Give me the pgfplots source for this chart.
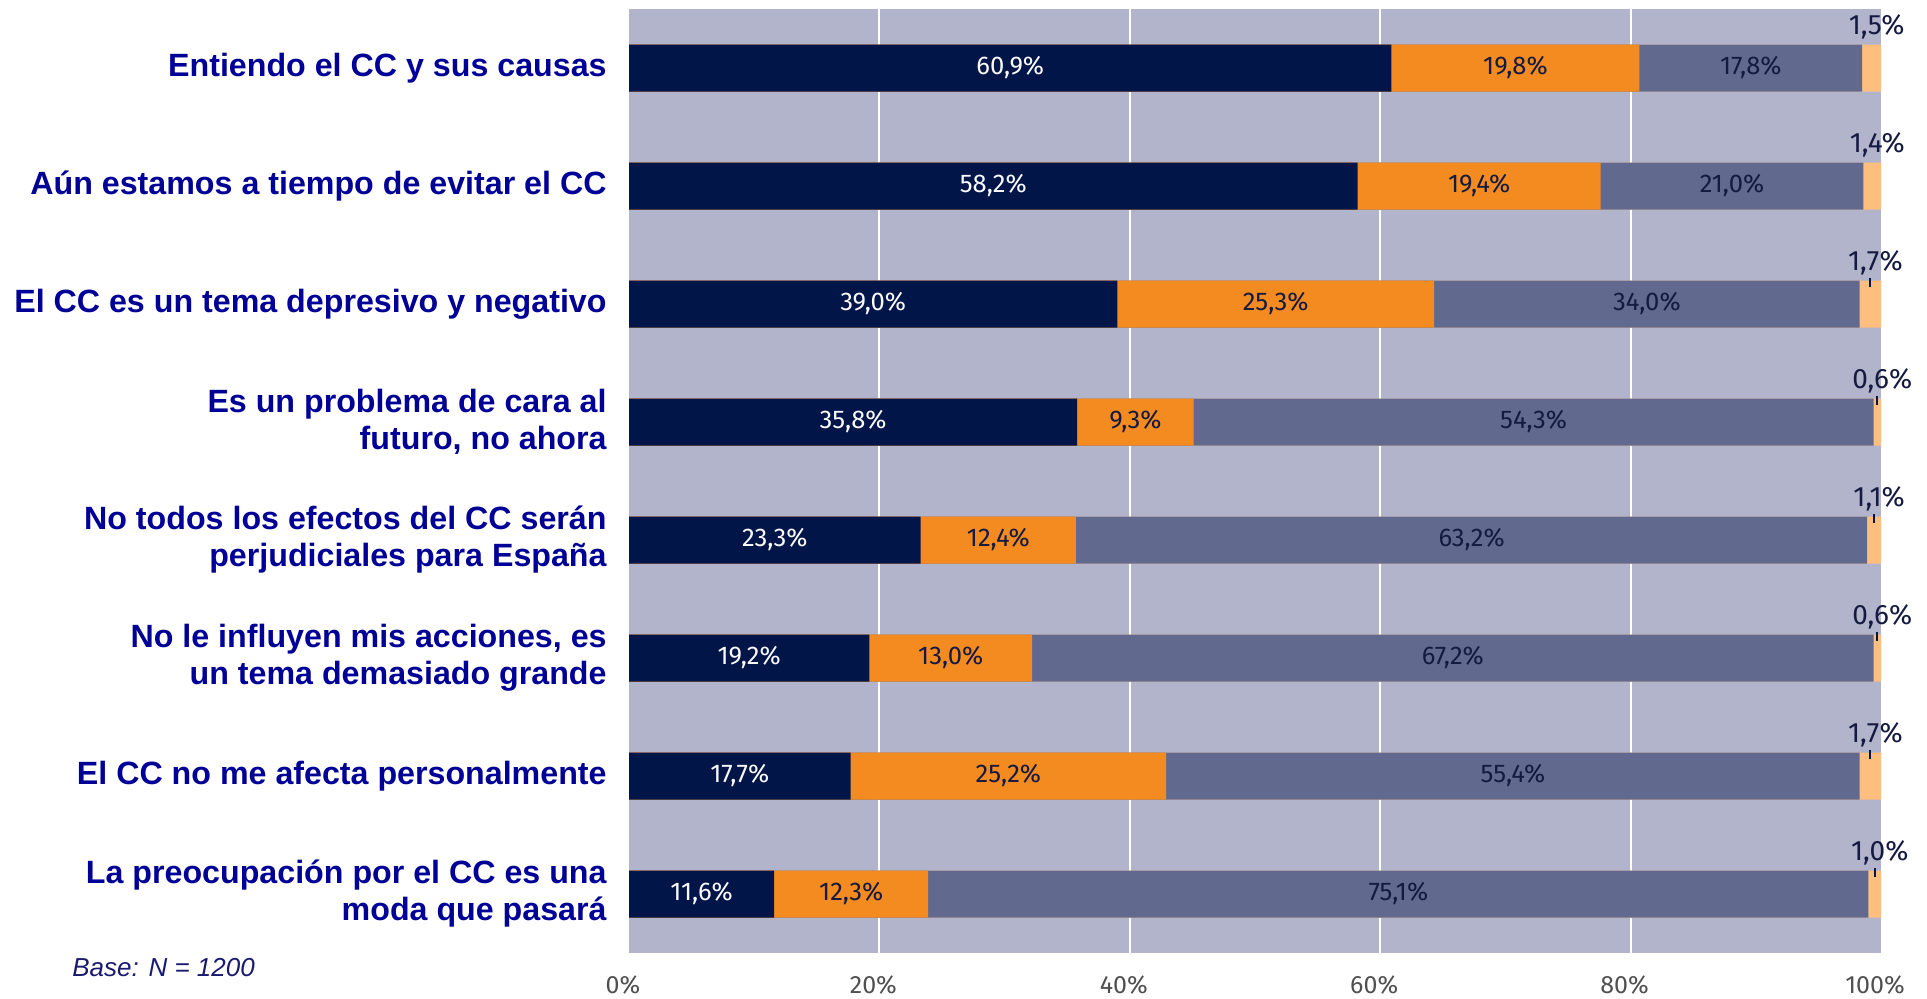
\documentclass[border=0pt]{standalone}
\usepackage{pgfplots}
\pgfplotsset{compat=1.18}
\usepackage{pgfplotstable}
\usepackage{fontspec}
\setmainfont{Liberation Sans}
\newfontfamily\numfont{Fira Sans}
\definecolor{navy}{HTML}{021548}
\definecolor{orng}{HTML}{F48B20}
\definecolor{slate}{HTML}{62698E}
\definecolor{lorng}{HTML}{FEBE7E}
\definecolor{bgc}{HTML}{B2B4CC}
\definecolor{lblue}{HTML}{000096}
\definecolor{dtext}{HTML}{141A40}
\definecolor{tickgray}{HTML}{505050}
\definecolor{basec}{HTML}{1A1A70}

\pgfplotstableread{
y a b c d
1 60.9 19.8 17.8 1.5
2 58.2 19.4 21.0 1.4
3 39.0 25.3 34.0 1.7
4 35.8 9.3 54.3 0.6
5 23.3 12.4 63.2 1.1
6 19.2 13.0 67.2 0.6
7 17.7 25.2 55.4 1.7
8 11.6 12.3 75.1 1.0
}\data

\newcommand{\pct}{\pgfmathprintnumber[fixed,fixed zerofill,precision=1,use comma,assume math mode=true]{\pgfplotspointmeta}\%}

\begin{document}
\begin{tikzpicture}
\path[use as bounding box] (0,0) rectangle (963.5pt,499pt);
\begin{axis}[
  at={(314.5pt,22.5pt)}, anchor=south west,
  scale only axis, width=626pt, height=472pt,
  xmin=0, xmax=100, ymin=0.5, ymax=8.5,
  y dir=reverse,
  clip=false,
  axis background/.style={fill=bgc},
  axis line style={draw=none},
  tick style={draw=none},
  major tick length=0pt,
  xtick={20,40,60,80},
  xticklabels={20\%,40\%,60\%,80\%},
  extra x ticks={0,100},
  extra x tick labels={0\%,100\%},
  extra x tick style={grid=none},
  xmajorgrids,
  grid style={white, line width=1pt},
  xticklabel style={font=\numfont\fontsize{12.5}{14}\selectfont, text=tickgray, inner sep=0pt, anchor=north, yshift=-11pt, xshift=-3pt},
  ytick={1,...,8},
  yticklabels={
    Entiendo el CC y sus causas,
    Aún estamos a tiempo de evitar el CC,
    El CC es un tema depresivo y negativo,
    {Es un problema de cara al\\futuro, no ahora},
    {No todos los efectos del CC serán\\perjudiciales para España},
    {No le influyen mis acciones, es\\un tema demasiado grande},
    El CC no me afecta personalmente,
    {La preocupación por el CC es una\\moda que pasará}
  },
  yticklabel style={font=\fontsize{16.1}{18.5}\selectfont\bfseries, text=lblue, align=right, inner sep=0pt, anchor=east, xshift=-11pt},
  bar width=23.5pt,
]
\addplot[xbar, bar shift=0pt, fill=lorng, draw=none] table[x expr=\thisrow{a}+\thisrow{b}+\thisrow{c}+\thisrow{d}, y=y]{\data};
\addplot[xbar, bar shift=0pt, fill=slate, draw=none] table[x expr=\thisrow{a}+\thisrow{b}+\thisrow{c}, y=y]{\data};
\addplot[xbar, bar shift=0pt, fill=orng, draw=none] table[x expr=\thisrow{a}+\thisrow{b}, y=y]{\data};
\addplot[xbar, bar shift=0pt, fill=navy, draw=none] table[x=a, y=y]{\data};

% value labels
\addplot[draw=none, mark=none, point meta=\thisrow{a}, nodes near coords={\pct},
  nodes near coords style={anchor=center, text=white!94!bgc, font=\numfont\fontsize{12.8}{14}\selectfont}]
  table[x expr=\thisrow{a}/2, y=y]{\data};
\addplot[draw=none, mark=none, point meta=\thisrow{b}, nodes near coords={\pct},
  nodes near coords style={anchor=center, text=dtext, font=\numfont\fontsize{12.8}{14}\selectfont}]
  table[x expr=\thisrow{a}+\thisrow{b}/2, y=y]{\data};
\addplot[draw=none, mark=none, point meta=\thisrow{c}, nodes near coords={\pct},
  nodes near coords style={anchor=center, text=dtext, font=\numfont\fontsize{12.8}{14}\selectfont}]
  table[x expr=\thisrow{a}+\thisrow{b}+\thisrow{c}/2, y=y]{\data};
\addplot[draw=none, mark=none, point meta=\thisrow{d}, nodes near coords={\pct},
  nodes near coords style={anchor=base, xshift=2.5pt, yshift=16.75pt, text=dtext, font=\numfont\fontsize{14}{16}\selectfont}]
  table[x expr=\thisrow{a}+\thisrow{b}+\thisrow{c}+\thisrow{d}/2, y=y]{\data};
% small tick marks
\addplot[draw=none, mark=none, skip coords between index={0}{2}, nodes near coords={\rule{1pt}{4.5pt}},
  nodes near coords style={anchor=center, inner sep=0pt, text=navy, yshift=11pt}]
  table[x expr=\thisrow{a}+\thisrow{b}+\thisrow{c}+\thisrow{d}/2, y=y]{\data};
\end{axis}
\node[anchor=west, inner sep=0pt, text=basec, font=\itshape\fontsize{13}{15}\selectfont] at (36pt,15pt) {Base: N = 1200};
\end{tikzpicture}
\end{document}
